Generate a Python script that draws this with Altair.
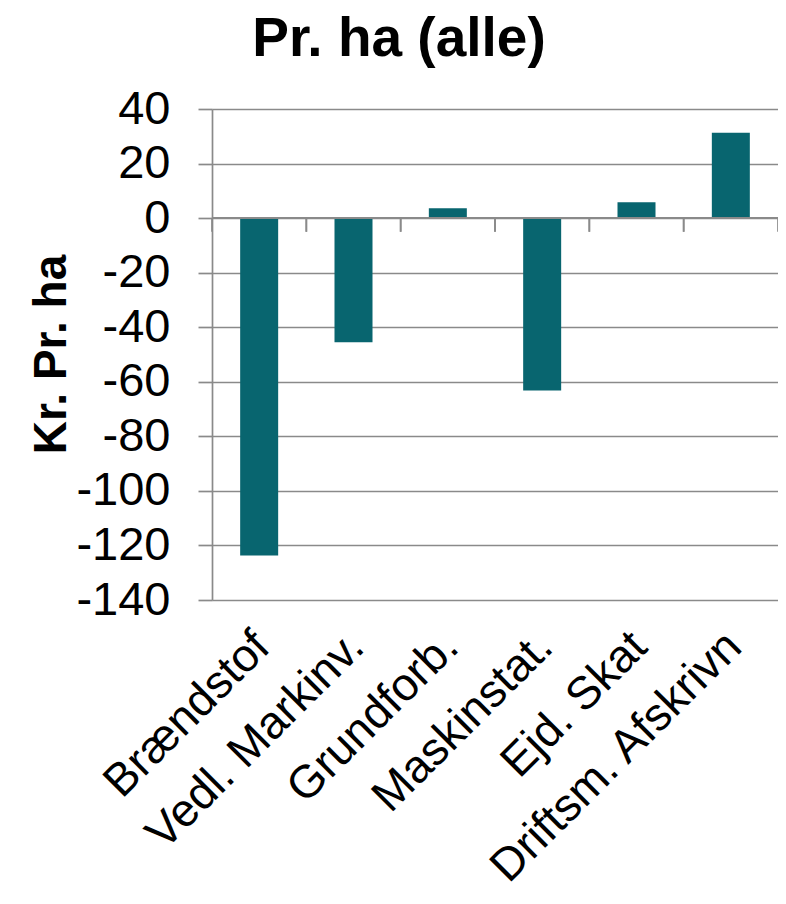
import altair as alt
import pandas as pd

categories = ["Brændstof", "Vedl. Markinv.", "Grundforb.", "Maskinstat.", "Ejd. Skat", "Driftsm. Afskrivn"]
values = [-123.7, -45.5, 3.6, -63.2, 5.8, 31.3]
y_ticks = [40, 20, 0, -20, -40, -60, -80, -100, -120, -140]

df = pd.DataFrame({"cat": categories, "val": values})

FONT = "Liberation Sans"
GRID = "#8a8a8a"
BAR = "#08656F"

x_scale = alt.Scale(domain=categories, paddingInner=0, paddingOuter=0)
y_scale = alt.Scale(domain=[-140, 40], nice=False, zero=False)

bars = alt.Chart(df).mark_bar(size=38, color=BAR).encode(
    x=alt.X("cat:N", sort=categories, scale=x_scale,
            axis=alt.Axis(title=None, labelAngle=-45, labelAlign="right", labelBaseline="middle",
                          labelFont=FONT, labelFontSize=46, labelColor="#000000",
                          labelPadding=39, labelOffset=3, domain=False, ticks=False, grid=False,
                          labelLimit=0)),
    y=alt.Y("val:Q", scale=y_scale,
            axis=alt.Axis(values=y_ticks, title="Kr. Pr. ha", titleFont=FONT, titleFontSize=46,
                          titleFontWeight="bold", titleColor="#000000", titleAngle=-90,
                          titleX=-147, titleY=245, titleAlign="center", titleBaseline="alphabetic",
                          labelExpr="replace(datum.label, '\u2212', '-')",
                          labelFont=FONT, labelFontSize=47, labelColor="#000000", labelPadding=28,
                          domainColor=GRID, domainWidth=1.7, tickColor=GRID, tickWidth=1.7, tickSize=14,
                          gridColor=GRID, gridWidth=1.7, gridOpacity=1)),
)

zero_line = alt.Chart(df).mark_rule(color=GRID, strokeWidth=1.7).encode(y=alt.datum(0))

tick_left = alt.Chart(df).mark_rule(color=GRID, strokeWidth=1.7).encode(
    x=alt.X("cat:N", sort=categories, scale=x_scale, bandPosition=0),
    y=alt.datum(0), y2=alt.datum(-5),
)
tick_right = alt.Chart(df).mark_rule(color=GRID, strokeWidth=1.7).encode(
    x=alt.X("cat:N", sort=categories, scale=x_scale, bandPosition=1),
    y=alt.datum(0), y2=alt.datum(-5),
)

chart = alt.layer(bars, zero_line, tick_left, tick_right).properties(
    width=566, height=491,
    autosize=alt.AutoSizeParams(type="none"),
    padding={"left": 204, "top": 101, "right": 0, "bottom": 290},
    title=alt.TitleParams("Pr. ha (alle)", font=FONT, fontSize=55, fontWeight="bold",
                          color="#000000", anchor="middle", dx=-96, offset=17),
).configure_view(stroke=None).configure(background="#ffffff")

chart.save("out.html", embed_options={"renderer": "svg", "actions": False})
